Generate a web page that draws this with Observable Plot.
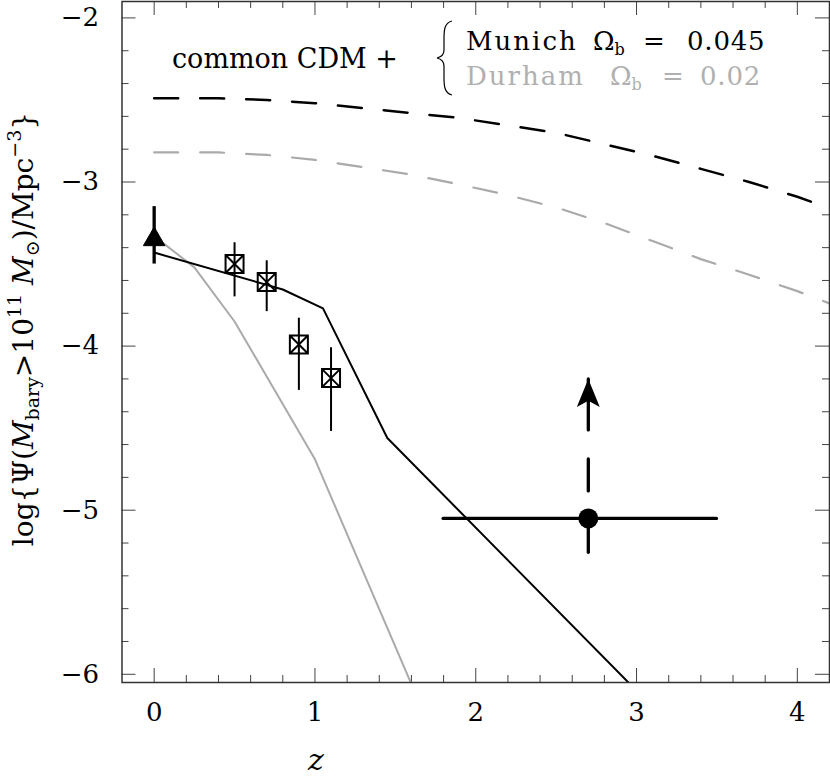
<!DOCTYPE html>
<html>
<head>
<meta charset="utf-8">
<script src="https://cdn.jsdelivr.net/npm/d3@7"></script>
<script src="https://cdn.jsdelivr.net/npm/@observablehq/plot@0.6"></script>
<style>
  html, body { margin: 0; padding: 0; background: white; }
</style>
</head>
<body>
<div id="chart"></div>
<script>
// ---------- data ----------
// Common CDM dashed curves (z grid and log Psi)
const cdmZ = [0, 0.4, 0.7, 1.0, 1.3, 1.6, 1.9, 2.2, 2.5, 2.8, 3.1, 3.4, 3.7, 4.0, 4.2];
const munichCdmLogPsi = [-2.49, -2.49, -2.50, -2.52, -2.55, -2.58, -2.61, -2.655, -2.70, -2.77, -2.84, -2.92, -3.00, -3.09, -3.16];
const durhamCdmLogPsi = [-2.82, -2.82, -2.835, -2.865, -2.91, -2.955, -3.015, -3.08, -3.155, -3.25, -3.36, -3.47, -3.565, -3.665, -3.74];

// Semi-analytic model curves (solid)
const munichModelZ = [0, 0.8, 1.05, 1.45, 3.0];
const munichModelLogPsi = [-3.43, -3.655, -3.77, -4.56, -6.10];
const durhamModelZ = [0, 0.25, 0.5, 1.0, 1.6];
const durhamModelLogPsi = [-3.33, -3.52, -3.85, -4.69, -6.06];

// Local point (filled triangle)
const localZ = [0];
const localLogPsi = [-3.35];
const localLo = [-3.50];
const localHi = [-3.15];

// Boxed-cross points
const boxZ = [0.5, 0.7, 0.9, 1.1];
const boxLogPsi = [-3.50, -3.61, -3.99, -4.195];
const boxLo = [-3.70, -3.79, -4.27, -4.52];
const boxHi = [-3.37, -3.48, -3.83, -4.01];

// High-z point (filled circle) with lower-limit arrow
const hizZ = [2.7];
const hizLogPsi = [-5.05];
const hizZLo = [1.8];
const hizZHi = [3.5];
const hizLo = [-5.26];
const hizLimitTop = [-4.20];

// Ticks
const xMajorTicks = [0, 1, 2, 3, 4];
const yMajorTicks = [-6, -5, -4, -3, -2];
const xMinorTicks = d3.range(-1, 22).map(i => +(i * 0.2).toFixed(1)).filter(v => v > -0.2 && v < 4.2 && !Number.isInteger(v));
const yMinorTicks = d3.range(-30, -9).map(i => +(i * 0.2).toFixed(1)).filter(v => v >= -6.05 && v <= -1.9 && !Number.isInteger(v));

// ---------- tables ----------
const munichCdm = cdmZ.map((z, i) => ({z, v: munichCdmLogPsi[i]}));
const durhamCdm = cdmZ.map((z, i) => ({z, v: durhamCdmLogPsi[i]}));
const munichModel = munichModelZ.map((z, i) => ({z, v: munichModelLogPsi[i]}));
const durhamModel = durhamModelZ.map((z, i) => ({z, v: durhamModelLogPsi[i]}));
const local = localZ.map((z, i) => ({z, v: localLogPsi[i], lo: localLo[i], hi: localHi[i]}));
const boxes = boxZ.map((z, i) => ({z, v: boxLogPsi[i], lo: boxLo[i], hi: boxHi[i]}));
const hiz = hizZ.map((z, i) => ({z, v: hizLogPsi[i], zlo: hizZLo[i], zhi: hizZHi[i], lo: hizLo[i], top: hizLimitTop[i]}));

// ---------- layout ----------
const W = 830, H = 780;
const mL = 121.5, mR = 1, mT = 1, mB = 98;
const innerW = W - mL - mR, innerH = H - mT - mB;
const GREY = "#aaaaaa";
const TICK = "#444";

// custom symbols
const boxCross = {
  draw(ctx, size) {
    const s = Math.sqrt(size) / 2;
    ctx.moveTo(-s, -s); ctx.lineTo(s, -s); ctx.lineTo(s, s); ctx.lineTo(-s, s); ctx.closePath();
    ctx.moveTo(-s, -s); ctx.lineTo(s, s);
    ctx.moveTo(s, -s); ctx.lineTo(-s, s);
  }
};
const arrowHead = {
  draw(ctx, size) {
    const L = Math.sqrt(size);
    ctx.moveTo(0, 0);
    ctx.lineTo(-0.41 * L, L);
    ctx.lineTo(0, 0.78 * L);
    ctx.lineTo(0.41 * L, L);
    ctx.closePath();
  }
};
const rFor = side => Math.sqrt(side * side / Math.PI);

const chart = Plot.plot({
  width: W, height: H,
  marginLeft: mL, marginRight: mR, marginTop: mT, marginBottom: mB,
  x: {domain: [-0.2, 4.2]},
  y: {domain: [-6.05, -1.9]},
  style: {fontFamily: "DejaVu Serif", fontSize: "26px", background: "white", color: "black"},
  marks: [
    // minor ticks (inside, all four sides)
    Plot.tickX(xMinorTicks, {x: d => d, insetTop: innerH - 7, stroke: TICK}),
    Plot.tickX(xMinorTicks, {x: d => d, insetBottom: innerH - 7, stroke: TICK}),
    Plot.tickY(yMinorTicks, {y: d => d, insetRight: innerW - 7, stroke: TICK}),
    Plot.tickY(yMinorTicks, {y: d => d, insetLeft: innerW - 7, stroke: TICK}),
    // major ticks
    Plot.tickX(xMajorTicks, {x: d => d, insetTop: innerH - 14, stroke: TICK}),
    Plot.tickX(xMajorTicks, {x: d => d, insetBottom: innerH - 14, stroke: TICK}),
    Plot.tickY(yMajorTicks, {y: d => d, insetRight: innerW - 14, stroke: TICK}),
    Plot.tickY(yMajorTicks, {y: d => d, insetLeft: innerW - 14, stroke: TICK}),
    // tick labels
    Plot.axisX({ticks: xMajorTicks, tickSize: 0, tickPadding: 20, tickFormat: d3.format("d"), label: null, fontSize: 26}),
    Plot.axisY({ticks: yMajorTicks, tickSize: 0, tickPadding: 23, tickFormat: d3.format("d"), label: null, fontSize: 26}),
    // CDM dashed curves
    Plot.line(durhamCdm, {x: "z", y: "v", stroke: GREY, strokeWidth: 2.2, strokeDasharray: "24,22", clip: true}),
    Plot.line(munichCdm, {x: "z", y: "v", stroke: "black", strokeWidth: 2.5, strokeDasharray: "24,22", clip: true}),
    // model curves
    Plot.line(durhamModel, {x: "z", y: "v", stroke: GREY, strokeWidth: 2, clip: true}),
    Plot.line(munichModel, {x: "z", y: "v", stroke: "black", strokeWidth: 2, clip: true}),
    // error bars
    Plot.ruleX(local, {x: "z", y1: "lo", y2: "hi", stroke: "black", strokeWidth: 3.3}),
    Plot.ruleX(boxes, {x: "z", y1: "lo", y2: "hi", stroke: "black", strokeWidth: 2}),
    Plot.ruleY(hiz, {y: "v", x1: "zlo", x2: "zhi", stroke: "black", strokeWidth: 3.3, strokeLinecap: "round"}),
    Plot.ruleX(hiz, {x: "z", y1: "v", y2: "lo", stroke: "black", strokeWidth: 3.3, strokeLinecap: "round"}),
    // lower-limit dashed arrow
    Plot.link(hiz, {x1: "z", y1: "top", x2: "z", y2: "v", stroke: "black", strokeWidth: 3.3, strokeDasharray: "51,29,32,30,60", strokeLinecap: "round"}),
    Plot.dot(hiz, {x: "z", y: "top", symbol: arrowHead, r: rFor(28), fill: "black", stroke: "none"}),
    // markers
    Plot.dot(local, {x: "z", y: "v", symbol: "triangle", r: 8, fill: "black", stroke: "black", strokeWidth: 1}),
    Plot.dot(boxes, {x: "z", y: "v", symbol: boxCross, r: rFor(18), fill: "none", stroke: "black", strokeWidth: 2}),
    Plot.dot(hiz, {x: "z", y: "v", r: 10, fill: "black", stroke: "none"}),
    Plot.frame({stroke: "#333", strokeWidth: 1.5})
  ]
});

document.getElementById("chart").appendChild(chart);

// ---------- text with sub/superscripts ----------
const svg = d3.select(chart);
const ff = "DejaVu Serif";

// legend
const lg = svg.append("g").attr("font-family", ff).attr("font-size", 27).attr("text-anchor", "start");
lg.append("text").attr("x", 172).attr("y", 68).attr("fill", "black").text("common CDM +");
lg.append("path")
  .attr("d", "M452,21 C444,23 444,31 444,39 L444,50 C444,55 441,57 437,58 C441,59 444,61 444,66 L444,77 C444,85 444,93 452,95")
  .attr("fill", "none").attr("stroke", "black").attr("stroke-width", 1.2);

function legendLine(y, color, name, omX, eqX, valX, val) {
  const t = lg.append("text").attr("y", y).attr("fill", color).attr("text-anchor", "start").attr("font-size", 26);
  t.append("tspan").attr("x", 466).attr("letter-spacing", 2).text(name);
  t.append("tspan").attr("x", omX).text("Ω");
  t.append("tspan").attr("dy", 5).attr("font-size", 16).text("b");
  t.append("tspan").attr("x", eqX).attr("dy", -5).text("=");
  t.append("tspan").attr("x", valX).attr("letter-spacing", 0.8).text(val);
}
legendLine(50, "black", "Munich", 593, 643, 687, "0.045");
legendLine(85, "#b0b0b0", "Durham", 610, 662, 700, "0.02");

// y-axis title
const yl = svg.append("text")
  .attr("transform", "translate(33,329) rotate(-90)")
  .attr("text-anchor", "middle")
  .attr("font-family", ff).attr("font-size", 28).attr("fill", "black");
yl.append("tspan").text("log{Ψ(");
yl.append("tspan").attr("font-style", "italic").text("M");
yl.append("tspan").attr("font-size", 19).attr("dy", 6).text("bary");
yl.append("tspan").attr("dy", -6).text(">10");
yl.append("tspan").attr("font-size", 19).attr("dy", -12).text("11");
yl.append("tspan").attr("dy", 12).attr("font-style", "italic").text(" M");
yl.append("tspan").attr("font-size", 19).attr("dy", 6).text("⊙");
yl.append("tspan").attr("dy", -6).text(")/Mpc");
yl.append("tspan").attr("font-size", 19).attr("dy", -12).text("−3");
yl.append("tspan").attr("dy", 12).text("}");

// x-axis title
svg.append("text").attr("x", 316).attr("y", 770).attr("text-anchor", "middle")
  .attr("font-family", ff).attr("font-size", 30).attr("font-style", "italic").attr("fill", "black").text("z");
</script>
</body>
</html>
